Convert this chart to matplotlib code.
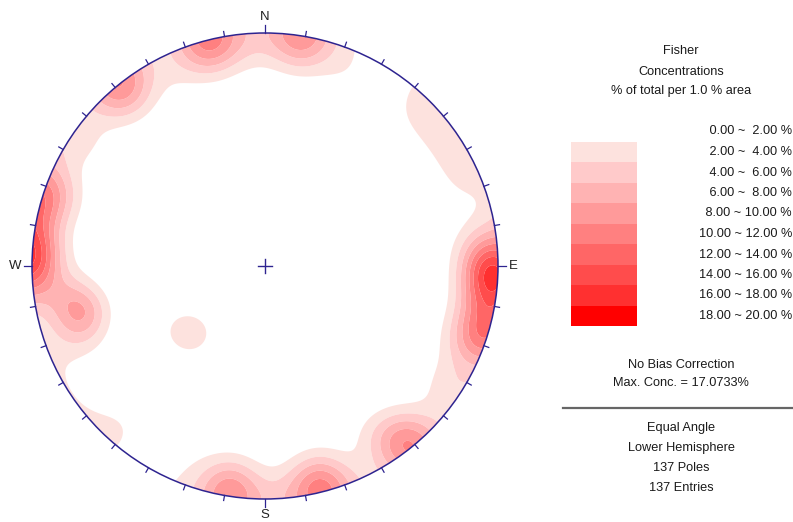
import numpy as np
import matplotlib
matplotlib.use("Agg")
import matplotlib.pyplot as plt
from matplotlib.patches import Circle, Rectangle

plt.rcParams['font.family'] = ['Liberation Sans', 'DejaVu Sans']

# Pole clusters: trend (deg), plunge (deg), number of poles
trends = [93, 88, 99, 84,
          107, 113, 288,
          256, 262, 250,
          321, 141, 146,
          346, 166, 9, 189, 357, 178, 335, 22, 200,
          227, 233,
          44, 52, 60, 68, 222, 305, 123]
plunges = [1, 2, 2, 4,
           2, 4, 2,
           12, 8, 9,
           2, 3, 7,
           2, 3, 2, 3, 2, 2, 4, 5, 5,
           44, 41,
           4, 4, 4, 4, 4, 3, 3]
counts = [14, 7, 6, 2,
          9, 2, 5,
          8, 4, 3,
          8, 6, 3,
          8, 8, 7, 7, 3, 1, 2, 2, 1,
          4, 2,
          2, 2, 2, 2, 2, 2, 3]

levels = [0, 2, 4, 6, 8, 10, 12, 14, 16, 18, 20]
level_labels = [f"{lo:5.2f} ~ {hi:5.2f} %" for lo, hi in zip(levels[:-1], levels[1:])]
fill_colors = ['#ffffff', '#fde2de', '#ffcaca', '#ffb3b3', '#ff9a9a',
               '#ff8080', '#ff6666', '#ff4c4c', '#ff3030', '#ff0000']
fisher_k = 100.0
n_poles = sum(counts)


def lower_vector(trend_deg, plunge_deg):
    t = np.radians(trend_deg)
    p = np.radians(plunge_deg)
    return np.array([np.cos(p) * np.sin(t), np.cos(p) * np.cos(t), np.sin(p)])


# Equal-angle grid -> direction cosines
g = np.linspace(-1.05, 1.05, 501)
X, Y = np.meshgrid(g, g)
r = np.hypot(X, Y)
theta = 2 * np.arctan(r)            # angle from the vertical
trend_g = np.arctan2(X, Y)
V = np.stack([np.sin(theta) * np.sin(trend_g),
              np.sin(theta) * np.cos(trend_g),
              np.cos(theta)], axis=-1)

# Fisher counting with axial (antipodal) symmetry
dens = np.zeros_like(X)
for t, p, c in zip(trends, plunges, counts):
    v = lower_vector(t, p)
    cosang = np.abs(V @ v)
    dens += c * np.exp(fisher_k * (cosang - 1.0))
dens *= fisher_k / n_poles          # % of total per 1 % area

W, H = 793, 522
fig = plt.figure(figsize=(W / 100, H / 100), dpi=100)

# Stereonet axes: unit circle centred at pixel (265, 266), radius 233 px
R = 233.0
cx, cy = 265.0, 266.0
lim = 1.1
size = 2 * lim * R
ax = fig.add_axes([(cx - lim * R) / W, (H - cy - lim * R) / H, size / W, size / H])
ax.set_xlim(-lim, lim)
ax.set_ylim(-lim, lim)
ax.set_aspect('equal')
ax.axis('off')

net_color = '#2e2490'
cs = ax.contourf(X, Y, dens, levels=levels, colors=fill_colors, antialiased=True)
clip = Circle((0, 0), 1.0, transform=ax.transData)
cs.set_clip_path(clip)

ax.add_patch(Circle((0, 0), 1.0, fill=False, ec=net_color, lw=1.1, zorder=5))

# Azimuth ticks every 10 degrees
for az in range(0, 360, 10):
    a = np.radians(az)
    ln = 0.036 if az % 90 == 0 else 0.022
    ax.plot([np.sin(a), (1 + ln) * np.sin(a)], [np.cos(a), (1 + ln) * np.cos(a)],
            color=net_color, lw=0.9, zorder=5)

ax.plot([-0.03, 0.03], [0, 0], color=net_color, lw=1.0)
ax.plot([0, 0], [-0.03, 0.03], color=net_color, lw=1.0)

lab_kw = dict(fontsize=9.5, color='#222222')
ax.text(0, 1.045, 'N', ha='center', va='bottom', **lab_kw)
ax.text(0, -1.045, 'S', ha='center', va='top', **lab_kw)
ax.text(1.045, 0, 'E', ha='left', va='center', **lab_kw)
ax.text(-1.045, 0, 'W', ha='right', va='center', **lab_kw)

# Legend panel in pixel coordinates
lg = fig.add_axes([0, 0, 1, 1])
lg.set_xlim(0, W)
lg.set_ylim(H, 0)
lg.axis('off')
lg.patch.set_alpha(0)

txt_kw = dict(fontsize=9.2, color='#1a1a1a')
for y, s in [(51, 'Fisher'), (72, 'Concentrations'), (91, '% of total per 1.0 % area')]:
    lg.text(681, y, s, ha='center', va='center', **txt_kw)

y0, dy = 131.5, 20.5
for i, s in enumerate(level_labels):
    lg.text(792, y0 + i * dy, s, ha='right', va='center', **txt_kw)
for i in range(1, len(fill_colors)):
    top = y0 + i * dy - dy / 2
    lg.add_patch(Rectangle((571, top), 66, dy, fc=fill_colors[i], ec='none'))

for y, s in [(365, 'No Bias Correction'), (383, 'Max. Conc. = 17.0733%')]:
    lg.text(681, y, s, ha='center', va='center', **txt_kw)
lg.plot([563, 793], [408, 408], color='#666666', lw=1.6)
for y, s in [(428, 'Equal Angle'), (448, 'Lower Hemisphere'),
             (468, f'{n_poles} Poles'), (488, f'{n_poles} Entries')]:
    lg.text(681, y, s, ha='center', va='center', **txt_kw)

fig.savefig('out.png', dpi=100)
